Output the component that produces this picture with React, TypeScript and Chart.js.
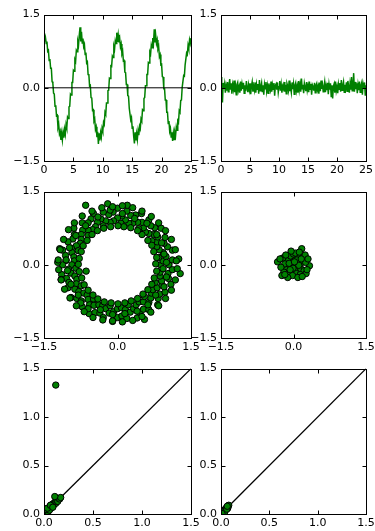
import React, { useEffect, useRef } from "react";
import { Chart, registerables } from "chart.js";

Chart.register(...registerables);

// ---------- data ----------
const T_STEP = 0.125; // sampling interval of the time series (0 .. 25)

const signalY = [
  1.05, 0.95, 1.03, 0.91, 0.95, 0.75, 0.77, 0.56, 0.59, 0.40, 0.40, 0.13, 0.10, -0.11, -0.13, -0.38, -0.36, -0.57, -0.56, -0.81,
  -0.75, -0.94, -0.89, -1.07, -0.93, -1.07, -0.91, -1.02, -0.85, -0.95, -0.75, -0.82, -0.60, -0.63, -0.39, -0.38, -0.13, -0.15, 0.11, 0.11,
  0.36, 0.34, 0.58, 0.54, 0.77, 0.74, 0.95, 0.88, 1.08, 1.24, 0.95,
  1.15, 0.92, 1.01, 0.84, 0.89, 0.68, 0.72, 0.51, 0.53, 0.27, 0.28, 0.04, 0.05, -0.20, -0.21, -0.46, -0.45, -0.68, -0.64, -0.85,
  -0.80, -1.01, -0.90, -1.15, -0.93, -1.08, -0.92, -1.01, -0.83, -0.89, -0.71, -0.75, -0.50, -0.54, -0.31, -0.31, -0.06, -0.05, 0.20, 0.19,
  0.45, 0.44, 0.65, 0.62, 0.85, 0.79, 0.97, 0.91, 1.13, 0.94,
  1.08, 0.93, 1.01, 0.84, 0.90, 0.70, 0.75, 0.55, 0.56, 0.32, 0.31, 0.07, 0.07, -0.16, -0.17, -0.42, -0.42, -0.66, -0.61, -0.83,
  -0.79, -0.99, -1.14, -0.91, -1.08, -0.94, -1.06, -0.88, -0.97, -0.79, -0.84, -0.64, -0.68, -0.45, -0.47, -0.22, -0.20, 0.04, 0.04, 0.27,
  0.27, 0.52, 0.51, 0.73, 0.69, 0.88, 0.82, 1.02, 0.92, 1.20,
  0.93, 1.07, 0.91, 0.98, 0.80, 0.85, 0.64, 0.68, 0.47, 0.48, 0.23, 0.22, -0.02, -0.02, -0.25, -0.25, -0.50, -0.50, -0.73, -0.68,
  -0.89, -0.83, -1.01, -0.91, -1.09, -0.93, -1.06, -0.91, -0.98, -0.80, -0.87, -0.68, -0.71, -0.47, -0.50, -0.26, -0.25, 0.01, 0.01, 0.25,
  0.24, 0.47, 0.47, 0.71, 0.68, 0.87, 0.80, 0.98, 0.91, 1.02,
];

const noiseY = [
  0.22, -0.05, -0.30, 0.10, -0.02, 0.08, -0.10, 0.04, -0.06, 0.12,
  -0.08, 0.05, 0.18, -0.04, 0.09, -0.12, 0.06, -0.03, 0.15, -0.09,
  0.03, -0.14, 0.07, 0.11, -0.05, 0.02, -0.10, 0.13, -0.06, 0.08,
  -0.02, 0.10, -0.11, 0.05, -0.07, 0.14, 0.01, -0.09, 0.06, -0.04,
  0.09, -0.13, 0.04, 0.12, -0.08, 0.03, -0.05, 0.11, -0.10, 0.07,
  -0.03, 0.08, -0.12, 0.16, -0.06, 0.02, 0.10, -0.09, 0.05, -0.14,
  0.07, -0.02, 0.12, -0.07, 0.04, -0.11, 0.09, 0.01, -0.05, 0.13,
  -0.08, 0.06, -0.03, 0.10, -0.16, 0.05, 0.08, -0.04, 0.11, -0.09,
  0.02, 0.14, -0.06, 0.07, -0.10, 0.03, -0.02, 0.12, -0.08, 0.06,
  -0.12, 0.09, 0.04, -0.05, 0.15, -0.07, 0.02, -0.09, 0.11, -0.03,
  0.08, -0.13, 0.05, 0.10, -0.06, 0.03, -0.10, 0.14, -0.04, 0.07,
  -0.08, 0.19, -0.02, 0.06, -0.11, 0.09, 0.01, -0.07, 0.12, -0.05,
  0.04, -0.09, 0.13, -0.03, 0.08, -0.14, 0.06, 0.02, -0.06, 0.10,
  -0.10, 0.05, 0.09, -0.04, 0.03, -0.12, 0.11, -0.07, 0.15, -0.02,
  0.06, -0.08, 0.02, 0.12, -0.09, 0.04, -0.05, 0.10, -0.13, 0.07,
  -0.04, 0.09, -0.18, 0.05, -0.22, 0.03, 0.08, -0.10, 0.13, -0.06,
  0.02, -0.11, 0.07, -0.03, 0.10, -0.08, 0.16, -0.05, 0.04, 0.12,
  -0.09, 0.06, -0.02, 0.11, -0.07, 0.14, 0.03, -0.10, 0.08, -0.04,
  0.22, -0.06, 0.05, 0.30, -0.08, 0.12, -0.03, 0.09, -0.11, 0.06,
  -0.05, 0.13, -0.09, 0.04, 0.10, -0.14, 0.07, -0.02, 0.11, -0.16,
  0.05,
];

const ringPoints: [number, number][] = [
  [0.88, 0.00], [1.05, 0.00], [0.93, 0.08], [1.12, 0.10], [0.84, 0.15], [0.99, 0.17], [0.93, 0.25], [1.12, 0.30],
  [0.85, 0.31], [1.02, 0.37], [0.80, 0.37], [0.95, 0.44], [0.81, 0.47], [0.97, 0.56], [0.70, 0.49], [0.82, 0.57],
  [0.74, 0.62], [0.89, 0.75], [0.64, 0.64], [0.76, 0.76], [0.57, 0.67], [0.68, 0.80], [0.53, 0.76], [0.64, 0.92],
  [0.43, 0.74], [0.50, 0.87], [0.41, 0.87], [0.49, 1.05], [0.31, 0.85], [0.37, 1.02], [0.23, 0.85], [0.27, 1.01],
  [0.16, 0.92], [0.19, 1.10], [0.07, 0.85], [0.09, 1.00], [0.00, 0.96], [0.00, 1.16], [-0.08, 0.90], [-0.09, 1.08],
  [-0.15, 0.87], [-0.18, 1.03], [-0.24, 0.90], [-0.29, 1.08], [-0.29, 0.80], [-0.34, 0.94], [-0.41, 0.87], [-0.49, 1.05],
  [-0.45, 0.78], [-0.54, 0.94], [-0.51, 0.72], [-0.60, 0.86], [-0.60, 0.71], [-0.72, 0.86], [-0.60, 0.60], [-0.71, 0.71],
  [-0.74, 0.62], [-0.89, 0.75], [-0.74, 0.52], [-0.88, 0.62], [-0.76, 0.44], [-0.91, 0.53], [-0.84, 0.39], [-1.01, 0.47],
  [-0.80, 0.29], [-0.94, 0.34], [-0.93, 0.25], [-1.12, 0.30], [-0.89, 0.16], [-1.06, 0.19], [-0.88, 0.08], [-1.05, 0.09],
  [-0.93, 0.00], [-1.12, 0.00], [-0.85, -0.07], [-1.00, -0.09], [-0.95, -0.17], [-1.14, -0.20], [-0.87, -0.23], [-1.04, -0.28],
  [-0.83, -0.30], [-0.99, -0.36], [-0.84, -0.39], [-1.01, -0.47], [-0.74, -0.43], [-0.87, -0.50], [-0.79, -0.55], [-0.95, -0.67],
  [-0.69, -0.58], [-0.83, -0.69], [-0.62, -0.62], [-0.74, -0.74], [-0.60, -0.71], [-0.72, -0.86], [-0.49, -0.70], [-0.57, -0.82],
  [-0.48, -0.83], [-0.58, -1.00], [-0.38, -0.82], [-0.46, -0.98], [-0.30, -0.83], [-0.36, -0.99], [-0.24, -0.90], [-0.29, -1.08],
  [-0.15, -0.84], [-0.17, -0.99], [-0.08, -0.96], [-0.10, -1.16], [0.00, -0.90], [0.00, -1.08], [0.08, -0.88], [0.09, -1.05],
  [0.16, -0.92], [0.19, -1.10], [0.22, -0.82], [0.26, -0.97], [0.33, -0.90], [0.40, -1.09], [0.38, -0.82], [0.46, -0.98],
  [0.44, -0.76], [0.53, -0.91], [0.53, -0.76], [0.64, -0.92], [0.55, -0.65], [0.64, -0.77], [0.68, -0.68], [0.82, -0.82],
  [0.69, -0.58], [0.83, -0.69], [0.72, -0.51], [0.86, -0.60], [0.81, -0.47], [0.97, -0.56], [0.77, -0.36], [0.91, -0.42],
  [0.90, -0.33], [1.09, -0.40], [0.87, -0.23], [1.04, -0.28], [0.87, -0.15], [1.03, -0.18], [0.93, -0.08], [1.12, -0.10],
  [1.00, 0.05], [0.95, 0.22], [0.90, 0.45], [0.80, 0.62], [0.60, 0.85], [0.35, 0.95], [0.10, 1.05], [-0.15, 1.12],
  [-0.40, 0.98], [-0.65, 0.80], [-0.85, 0.60], [-0.98, 0.35], [-1.05, 0.10], [-1.02, -0.12], [-0.95, -0.40], [-0.80, -0.62],
  [-0.60, -0.90], [-0.35, -0.92], [-0.10, -1.02], [0.15, -1.00], [0.40, -0.95], [0.62, -0.82], [0.78, -0.62], [0.95, -0.45],
  [1.00, -0.25], [-1.22, 0.05], [-1.18, 0.33], [-0.65, 1.22], [1.28, -0.18], [1.25, 0.12], [0.55, -1.12], [-0.20, 1.25],
  [0.20, 1.22], [-1.15, -0.30], [-0.75, -0.78],
  // inner edge
  [0.78, 0.02], [0.80, 0.15], [0.74, 0.27], [0.70, 0.40], [0.62, 0.50], [0.50, 0.62], [0.41, 0.70], [0.27, 0.76],
  [0.13, 0.78], [0.01, 0.80], [-0.14, 0.78], [-0.28, 0.75], [-0.41, 0.70], [-0.52, 0.62], [-0.62, 0.50], [-0.70, 0.39],
  [-0.74, 0.27], [-0.78, 0.13], [-0.80, 0.01], [-0.78, -0.14], [-0.73, -0.27], [-0.68, -0.41], [-0.60, -0.52], [-0.50, -0.62],
  [-0.40, -0.70], [-0.27, -0.76], [-0.13, -0.78], [0.01, -0.80], [0.15, -0.78], [0.28, -0.74], [0.41, -0.69], [0.52, -0.60],
  [0.62, -0.51], [0.70, -0.40], [0.75, -0.27], [0.80, -0.13], [-0.64, -0.13],
  // outer edge
  [1.20, 0.08], [1.18, 0.31], [1.10, 0.52], [0.98, 0.70], [0.84, 0.86], [0.69, 0.99], [0.50, 1.10], [0.31, 1.17],
  [0.10, 1.21], [-0.10, 1.19], [-0.32, 1.17], [-0.52, 1.10], [-0.72, 1.00], [-0.88, 0.86], [-1.00, 0.72], [-1.10, 0.52],
  [-1.17, 0.31], [-1.21, 0.10], [-1.20, -0.10], [-1.15, -0.31], [-1.08, -0.50], [-0.97, -0.68], [-0.84, -0.84], [-0.68, -0.96],
  [-0.50, -1.08], [-0.30, -1.13], [-0.10, -1.15], [0.10, -1.17], [0.31, -1.14], [0.50, -1.06], [0.68, -0.97], [0.84, -0.84],
  [0.98, -0.69], [1.10, -0.52], [1.18, -0.31], [1.22, -0.08],
];

const clusterPoints: [number, number][] = [
  [0.00, 0.00], [0.05, 0.03], [-0.04, 0.06], [0.08, -0.05], [-0.08, -0.04], [0.12, 0.08], [-0.12, 0.10], [0.02, 0.14],
  [0.03, -0.12], [-0.15, -0.10], [0.15, -0.08], [0.18, 0.05], [-0.18, 0.02], [0.10, 0.18], [-0.06, 0.18], [-0.10, -0.16],
  [0.06, -0.18], [0.20, 0.15], [-0.20, -0.15], [0.22, -0.12], [-0.22, 0.14], [0.00, 0.22], [0.14, -0.20], [-0.02, -0.22],
  [0.17, 0.33], [0.33, -0.02], [-0.33, 0.06], [0.25, 0.05], [-0.26, -0.05], [0.07, 0.10], [-0.09, 0.03], [0.11, -0.01],
  [-0.01, -0.07], [0.04, 0.24], [-0.16, 0.20], [0.24, 0.20], [0.26, -0.18], [-0.24, -0.22], [0.09, -0.26], [-0.12, -0.26],
  [0.18, -0.24], [-0.28, 0.12], [0.30, 0.12], [-0.05, 0.28], [0.12, 0.26], [0.28, -0.10], [-0.18, -0.20], [0.02, 0.06],
  [-0.07, -0.10], [0.16, 0.12],
];

const powerLeftPoints: [number, number][] = [
  [0.01, 0.01], [0.02, 0.015], [0.015, 0.03], [0.03, 0.02], [0.03, 0.04], [0.04, 0.035], [0.045, 0.05], [0.05, 0.06],
  [0.06, 0.05], [0.06, 0.07], [0.07, 0.08], [0.075, 0.065], [0.08, 0.09], [0.09, 0.085], [0.085, 0.10], [0.10, 0.11],
  [0.10, 0.095], [0.11, 0.12], [0.12, 0.11], [0.12, 0.13], [0.13, 0.14], [0.14, 0.13], [0.15, 0.16], [0.16, 0.155],
  [0.17, 0.17], [0.11, 0.18], [0.005, 0.005], [0.02, 0.005], [0.005, 0.02], [0.04, 0.02], [0.02, 0.045], [0.055, 0.04],
  [0.035, 0.06], [0.065, 0.09], [0.09, 0.07], [0.12, 1.33],
];

const powerRightPoints: [number, number][] = [
  [0.005, 0.005], [0.01, 0.02], [0.02, 0.01], [0.015, 0.03], [0.03, 0.02], [0.03, 0.04], [0.04, 0.03], [0.045, 0.05],
  [0.05, 0.045], [0.055, 0.06], [0.06, 0.07], [0.07, 0.06], [0.075, 0.085], [0.08, 0.09], [0.02, 0.025], [0.035, 0.015],
  [0.01, 0.005], [0.06, 0.05], [0.065, 0.08],
];

const timeTicks = [0, 5, 10, 15, 20, 25];
const symTicks = [-1.5, 0, 1.5];
const powTicks = [0, 0.5, 1, 1.5];
const diagLine = [0, 1.5];
const zeroLine = [0, 25];

// ---------- styling ----------
const GREEN = "#008000";
const FONT = { family: "'DejaVu Sans', sans-serif", size: 11 };
const PADL = 45;
const PADT = 10;
const PADR = 16;
const PADB = 26;

const fmt1 = (v: number) => (v < 0 ? "\u2212" : "") + Math.abs(v).toFixed(1);
const fmt0 = (v: number) => String(Math.round(v));

const framePlugin = {
  id: "frame",
  afterDatasetsDraw(chart: any) {
    const { ctx, chartArea } = chart;
    const { left, top, right, bottom } = chartArea;
    const xs = chart.scales.x;
    const ys = chart.scales.y;
    const L = Math.round(left) + 0.5;
    const R = Math.round(right) + 0.5;
    const T = Math.round(top) + 0.5;
    const B = Math.round(bottom) + 0.5;
    const TL = 4;
    ctx.save();
    ctx.strokeStyle = "#000";
    ctx.lineWidth = 1;
    ctx.beginPath();
    xs.ticks.forEach((t: any) => {
      const p = Math.round(xs.getPixelForValue(t.value)) + 0.5;
      ctx.moveTo(p, B);
      ctx.lineTo(p, B - TL);
      ctx.moveTo(p, T);
      ctx.lineTo(p, T + TL);
    });
    ys.ticks.forEach((t: any) => {
      const p = Math.round(ys.getPixelForValue(t.value)) + 0.5;
      ctx.moveTo(L, p);
      ctx.lineTo(L + TL, p);
      ctx.moveTo(R, p);
      ctx.lineTo(R - TL, p);
    });
    ctx.stroke();
    ctx.strokeRect(L, T, R - L, B - T);
    ctx.restore();
  },
};

type PanelSpec = {
  left: number;
  top: number;
  w: number;
  h: number;
  xRange: number[];
  yRange: number[];
  xTicks: number[];
  yTicks: number[];
  xFmt: (v: number) => string;
  yFmt: (v: number) => string;
  datasets: any[];
};

function Panel({ spec }: { spec: PanelSpec }) {
  const ref = useRef<HTMLCanvasElement | null>(null);
  useEffect(() => {
    const chart = new Chart(ref.current as HTMLCanvasElement, {
      type: "scatter",
      data: { datasets: spec.datasets },
      options: {
        animation: false,
        responsive: false,
        devicePixelRatio: 1,
        events: [],
        layout: { padding: { left: 0, top: PADT, right: PADR, bottom: 0 } },
        plugins: { legend: { display: false }, tooltip: { enabled: false } },
        scales: {
          x: {
            type: "linear",
            position: "bottom",
            min: spec.xRange[0],
            max: spec.xRange[1],
            grid: { display: false, drawTicks: false },
            border: { display: false },
            ticks: {
              padding: 3,
              color: "#000",
              font: FONT,
              autoSkip: false,
              maxRotation: 0,
              callback: (v: any) => spec.xFmt(Number(v)),
            },
            afterBuildTicks: (s: any) => {
              s.ticks = spec.xTicks.map((v) => ({ value: v }));
            },
            afterFit: (s: any) => {
              s.height = PADB;
            },
          },
          y: {
            type: "linear",
            position: "left",
            min: spec.yRange[0],
            max: spec.yRange[1],
            grid: { display: false, drawTicks: false },
            border: { display: false },
            ticks: {
              padding: 4,
              color: "#000",
              font: FONT,
              autoSkip: false,
              callback: (v: any) => spec.yFmt(Number(v)),
            },
            afterBuildTicks: (s: any) => {
              s.ticks = spec.yTicks.map((v) => ({ value: v }));
            },
            afterFit: (s: any) => {
              s.width = PADL;
            },
          },
        },
      } as any,
      plugins: [framePlugin],
    });
    return () => chart.destroy();
  }, [spec]);
  const cw = spec.w + PADL + PADR;
  const ch = spec.h + PADT + PADB;
  return (
    <canvas
      ref={ref}
      width={cw}
      height={ch}
      style={{ position: "absolute", left: spec.left - PADL, top: spec.top - PADT, width: cw, height: ch }}
    />
  );
}

const toXY = (pts: [number, number][]) => pts.map(([x, y]) => ({ x, y }));
const series = (ys: number[]) => ys.map((y, i) => ({ x: i * T_STEP, y }));

const lineDs = (data: any[], color: string, width: number) => ({
  data,
  showLine: true,
  borderColor: color,
  borderWidth: width,
  pointRadius: 0,
  fill: false,
  clip: 0,
});

const scatterDs = (pts: [number, number][]) => ({
  data: toXY(pts),
  backgroundColor: GREEN,
  borderColor: "#000",
  borderWidth: 1,
  pointRadius: 3.2,
  clip: 0,
});

const COL1 = { left: 44, w: 147 };
const COL2 = { left: 221, w: 145 };
const ROW1 = { top: 14, h: 147 };
const ROW2 = { top: 191, h: 147 };
const ROW3 = { top: 368, h: 146 };

const panels: PanelSpec[] = [
  {
    ...COL1, ...ROW1,
    xRange: [0, 25], yRange: [-1.5, 1.5], xTicks: timeTicks, yTicks: symTicks, xFmt: fmt0, yFmt: fmt1,
    datasets: [
      lineDs(zeroLine.map((x) => ({ x, y: 0 })), "#000", 1),
      lineDs(series(signalY), GREEN, 1.5),
    ],
  },
  {
    ...COL2, ...ROW1,
    xRange: [0, 25], yRange: [-1.5, 1.5], xTicks: timeTicks, yTicks: symTicks, xFmt: fmt0, yFmt: fmt1,
    datasets: [lineDs(series(noiseY), GREEN, 1.5)],
  },
  {
    ...COL1, ...ROW2,
    xRange: [-1.5, 1.5], yRange: [-1.5, 1.5], xTicks: symTicks, yTicks: symTicks, xFmt: fmt1, yFmt: fmt1,
    datasets: [scatterDs(ringPoints)],
  },
  {
    ...COL2, ...ROW2,
    xRange: [-1.5, 1.5], yRange: [-1.5, 1.5], xTicks: symTicks, yTicks: symTicks, xFmt: fmt1, yFmt: fmt1,
    datasets: [scatterDs(clusterPoints)],
  },
  {
    ...COL1, ...ROW3,
    xRange: [0, 1.5], yRange: [0, 1.5], xTicks: powTicks, yTicks: powTicks, xFmt: fmt1, yFmt: fmt1,
    datasets: [scatterDs(powerLeftPoints), lineDs(diagLine.map((v) => ({ x: v, y: v })), "#000", 1.3)],
  },
  {
    ...COL2, ...ROW3,
    xRange: [0, 1.5], yRange: [0, 1.5], xTicks: powTicks, yTicks: powTicks, xFmt: fmt1, yFmt: fmt1,
    datasets: [scatterDs(powerRightPoints), lineDs(diagLine.map((v) => ({ x: v, y: v })), "#000", 1.3)],
  },
];

export default function App() {
  return (
    <div
      style={{
        position: "fixed",
        left: 0,
        top: 0,
        width: 375,
        height: 531,
        overflow: "hidden",
        background: "#fff",
      }}
    >
      {panels.map((p, i) => (
        <Panel key={i} spec={p} />
      ))}
    </div>
  );
}
